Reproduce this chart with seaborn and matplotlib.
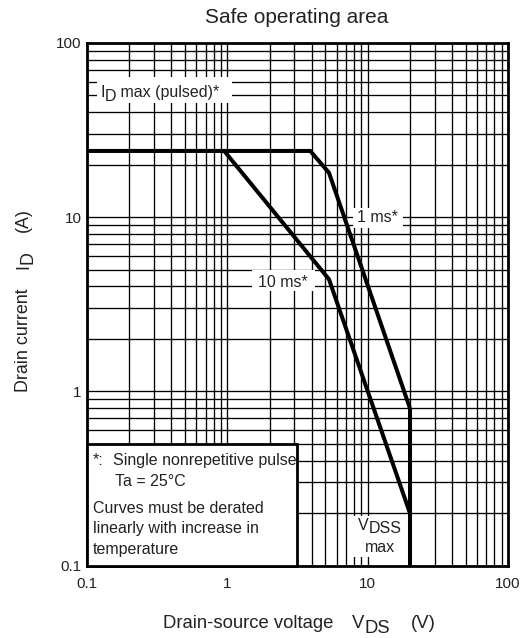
import numpy as np
import pandas as pd
import matplotlib
matplotlib.use("Agg")
import matplotlib.pyplot as plt
import seaborn as sns
from matplotlib.patches import Rectangle
from matplotlib.ticker import FixedLocator, FixedFormatter, LogLocator, NullFormatter

# ---------------- data ----------------
ms1_vds = [0.1, 3.9, 5.3, 20.0]
ms1_id = [24.0, 24.0, 18.0, 0.8]
ms10_vds = [0.95, 5.3, 20.0]
ms10_id = [24.0, 4.4, 0.2]
vdss_vds = [20.0, 20.0]
vdss_id = [0.8, 0.1]

x_ticks = [0.1, 1, 10, 100]
x_tick_labels = ["0.1", "1", "10", "100"]
y_ticks = [0.1, 1, 10, 100]
y_tick_labels = ["0.1", "1", "10", "100"]

# ---------------- style ----------------
W, H = 529, 638
sns.set_style("white")
plt.rcParams["font.family"] = ["Liberation Sans", "DejaVu Sans"]

fig = plt.figure(figsize=(W / 100, H / 100), dpi=100)
ax = fig.add_axes([87 / W, 1 - 565.5 / H, 421 / W, 522.5 / H])

df = pd.concat([
    pd.DataFrame({"V": ms1_vds, "I": ms1_id, "curve": "1 ms"}),
    pd.DataFrame({"V": ms10_vds, "I": ms10_id, "curve": "10 ms"}),
    pd.DataFrame({"V": vdss_vds, "I": vdss_id, "curve": "VDSS"}),
], ignore_index=True)

sns.lineplot(data=df, x="V", y="I", hue="curve",
             palette={"1 ms": "black", "10 ms": "black", "VDSS": "black"},
             estimator=None, sort=False, linewidth=2.9, legend=False, ax=ax,
             zorder=5)
for ln in ax.lines:
    ln.set_solid_joinstyle("miter")
    ln.set_solid_capstyle("butt")

ax.set_xscale("log")
ax.set_yscale("log")
ax.set_xlim(0.1, 100)
ax.set_ylim(0.1, 100)
ax.xaxis.set_major_locator(FixedLocator(x_ticks))
ax.xaxis.set_major_formatter(FixedFormatter(x_tick_labels))
ax.yaxis.set_major_locator(FixedLocator(y_ticks))
ax.yaxis.set_major_formatter(FixedFormatter(y_tick_labels))
for axis in (ax.xaxis, ax.yaxis):
    axis.set_minor_locator(LogLocator(base=10, subs=np.arange(2, 10)))
    axis.set_minor_formatter(NullFormatter())
ax.set_axisbelow(True)
ax.grid(which="both", color="black", linewidth=0.95)
for sp in ax.spines.values():
    sp.set_color("black")
    sp.set_linewidth(2.0)
ax.tick_params(axis="y", which="major", length=3, width=1, color="black",
               labelsize=11, pad=1, labelcolor="#222222")
ax.tick_params(axis="x", which="major", length=0, labelsize=11, pad=8,
               labelcolor="#222222")
ax.tick_params(which="minor", length=0)
ax.set_xlabel("")
ax.set_ylabel("")

TXT = "#222222"


def fx(px):
    return px / W


def fy(py):
    return 1 - py / H


def box(x0, y0, x1, y1, ec="none", lw=0):
    r = Rectangle((fx(x0), fy(y1)), fx(x1) - fx(x0), fy(y0) - fy(y1),
                  transform=fig.transFigure, facecolor="white", edgecolor=ec,
                  linewidth=lw, zorder=3, clip_on=False)
    ax.add_patch(r)


renderer = fig.canvas.get_renderer()


def seq(parts, x0, base, size, rot=0):
    """parts: (text, gap_px, drop_px)"""
    pos = x0
    for s, gap, drop in parts:
        if rot == 0:
            pos += gap
            t = ax.text(fx(pos), fy(base + drop), s, transform=fig.transFigure,
                        ha="left", va="baseline", fontsize=size, color=TXT,
                        zorder=6, clip_on=False)
            pos += t.get_window_extent(renderer).width
        else:
            pos -= gap
            t = ax.text(fx(base + drop), fy(pos), s, transform=fig.transFigure,
                        ha="left", va="baseline", rotation=90,
                        rotation_mode="anchor", fontsize=size, color=TXT,
                        zorder=6, clip_on=False)
            pos -= t.get_window_extent(renderer).height


# title
fig.text(fx(297), fy(23), "Safe operating area", ha="center", va="baseline",
         fontsize=15, color=TXT)

# axis labels
seq([("Drain-source voltage", 0, 0), ("V", 19, 0), ("DS", 0, 5), ("(V)", 20, 0)],
    163, 628, 13.3)
seq([("Drain current", 0, 0), ("I", 19, 0), ("D", 0, 5), ("(A)", 20, 0)],
    392, 28, 12.9, rot=90)

# in-plot labels
box(97, 77, 232, 103)
seq([("I", 0, 0), ("D", 0, 4), (" max (pulsed)*", 0, 0)], 100, 97, 11.5)

box(353, 208, 403, 228)
seq([("1 ms*", 0, 0)], 357, 222, 11.5)

box(252, 270, 315, 291)
seq([("10 ms*", 0, 0)], 258, 287, 11.5)

box(353, 516, 408, 557)
seq([("V", 0, 0), ("DSS", 0, 3)], 358, 530, 11.5)
seq([("max", 0, 0)], 365, 552, 11.5)

# note box
box(87, 444, 297, 565.5, ec="black", lw=2.0)
seq([("*:", 0, 0)], 93, 465, 11.5)
seq([("Single nonrepetitive pulse", 0, 0)], 113, 465, 11.5)
seq([("Ta = 25°C", 0, 0)], 115, 486, 11.5)
seq([("Curves must be derated", 0, 0)], 93, 513, 11.5)
seq([("linearly with increase in", 0, 0)], 93, 533, 11.5)
seq([("temperature", 0, 0)], 93, 554, 11.5)

fig.savefig("out.png", dpi=100)
